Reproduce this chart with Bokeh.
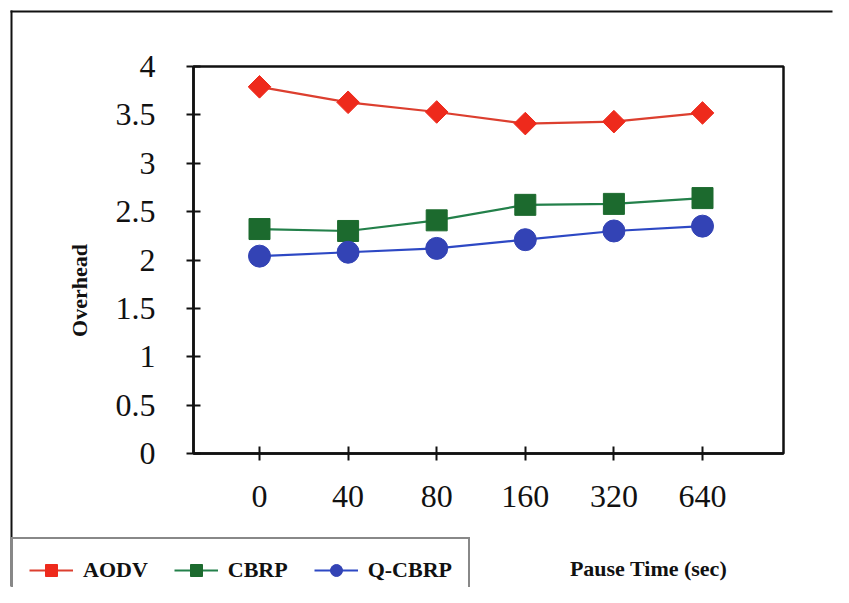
import math
from bokeh.plotting import figure
from bokeh.models import Range1d, FixedTicker, Legend, LegendItem, Label, BoxAnnotation
from bokeh.embed import file_html
from bokeh.resources import INLINE

# ---- data ----
pause_times = ["0", "40", "80", "160", "320", "640"]
aodv = [3.79, 3.63, 3.53, 3.41, 3.43, 3.52]
cbrp = [2.32, 2.30, 2.41, 2.57, 2.58, 2.64]
qcbrp = [2.04, 2.08, 2.12, 2.21, 2.30, 2.35]
y_ticks = [0, 0.5, 1, 1.5, 2, 2.5, 3, 3.5, 4]
y_tick_labels = ["0", "0.5", "1", "1.5", "2", "2.5", "3", "3.5", "4"]

idx = list(range(len(pause_times)))
FONT = "Liberation Serif"
INK = "#111111"

# layout (pixels): plot box left/right/top/bottom on the canvas
W, H = 833, 587
BOX_L, BOX_R, BOX_T, BOX_B = 193, 783, 66, 453
X0_PX, DX_PX = 259, 88.6          # pixel of first category, spacing
Y_MAX = 4.0
PY = (BOX_B - BOX_T) / Y_MAX       # pixels per unit

def xd(px):
    return (px - X0_PX) / DX_PX

def yd(py):
    return (BOX_B - py) / PY

p = figure(width=W, height=H, output_backend="svg", toolbar_location=None,
           x_range=Range1d(xd(0), xd(W)), y_range=Range1d(yd(H), yd(0)),
           min_border=0, min_border_left=0, min_border_right=0,
           min_border_top=0, min_border_bottom=0)
p.grid.visible = False
p.background_fill_color = "white"
p.border_fill_color = "white"
p.outline_line_color = None

# axes drawn at the plot box edges
p.xaxis.fixed_location = 0
p.xaxis.bounds = (xd(BOX_L), xd(BOX_R))
p.yaxis.fixed_location = xd(BOX_L)
p.yaxis.bounds = (0, Y_MAX)
p.xaxis.ticker = FixedTicker(ticks=idx)
p.xaxis.major_label_overrides = {i: s for i, s in zip(idx, pause_times)}
p.yaxis.ticker = FixedTicker(ticks=y_ticks)
p.yaxis.major_label_overrides = {t: s for t, s in zip(y_ticks, y_tick_labels)}
for ax in (p.xaxis, p.yaxis):
    ax.axis_line_color = INK
    ax.axis_line_width = 2.5
    ax.major_tick_line_color = INK
    ax.major_tick_line_width = 2
    ax.major_tick_in = 7
    ax.major_tick_out = 7
    ax.minor_tick_line_color = None
    ax.major_label_text_font = FONT
    ax.major_label_text_font_size = "32px"
    ax.major_label_text_color = INK
p.xaxis.major_label_standoff = 25
p.yaxis.major_label_standoff = 31
p.yaxis.major_label_text_align = "center"

# plot box (top and right edges)
p.add_layout(BoxAnnotation(left=xd(BOX_L), right=xd(BOX_R), bottom=0, top=Y_MAX,
                           fill_color=None, line_color=INK, line_alpha=1, line_width=2.5,
                           level="underlay"))
# outer frame: top and left strokes only
p.add_layout(BoxAnnotation(left=xd(10), right=xd(W - 1), top=yd(10), bottom=yd(12),
                           fill_color=INK, fill_alpha=1, line_color=None, level="underlay"))
p.add_layout(BoxAnnotation(left=xd(10), right=xd(12), top=yd(10), bottom=yd(H - 1),
                           fill_color=INK, fill_alpha=1, line_color=None, level="underlay"))

# series
r1 = p.line(idx, aodv, line_color="#dc3f2f", line_width=2.2)
m1 = p.scatter(idx, aodv, marker="square", angle=math.pi / 4, size=16,
               fill_color="#ee2a1c", line_color="#ee2a1c")
r2 = p.line(idx, cbrp, line_color="#23804a", line_width=2.2)
m2 = p.scatter(idx, cbrp, marker="square", size=21, fill_color="#1c6a2e", line_color="#1c6a2e")
r3 = p.line(idx, qcbrp, line_color="#2d48c4", line_width=2.2)
m3 = p.scatter(idx, qcbrp, marker="circle", size=22, fill_color="#3343b5", line_color="#3343b5")

legend = Legend(items=[LegendItem(label="AODV", renderers=[r1, m1]),
                       LegendItem(label="CBRP", renderers=[r2, m2]),
                       LegendItem(label="Q-CBRP", renderers=[r3, m3])],
                orientation="horizontal", location=(11, -16),
                label_text_font=FONT, label_text_font_size="22px", label_text_font_style="bold",
                label_text_color=INK,
                glyph_width=44, glyph_height=30, label_standoff=10, spacing=26, padding=16,
                margin=0, border_line_color=INK, border_line_width=2,
                background_fill_color="white", background_fill_alpha=1.0)
p.add_layout(legend, "center")

p.add_layout(Label(x=xd(79), y=yd(290), text="Overhead", angle=math.pi / 2, text_font=FONT,
                   text_font_size="22px", text_font_style="bold", text_color=INK,
                   text_align="center", text_baseline="middle"))
p.add_layout(Label(x=xd(648), y=yd(568), text="Pause Time (sec)", text_font=FONT,
                   text_font_size="22px", text_font_style="bold", text_color=INK,
                   text_align="center", text_baseline="middle"))

open("out.html", "w").write(file_html(p, INLINE))
